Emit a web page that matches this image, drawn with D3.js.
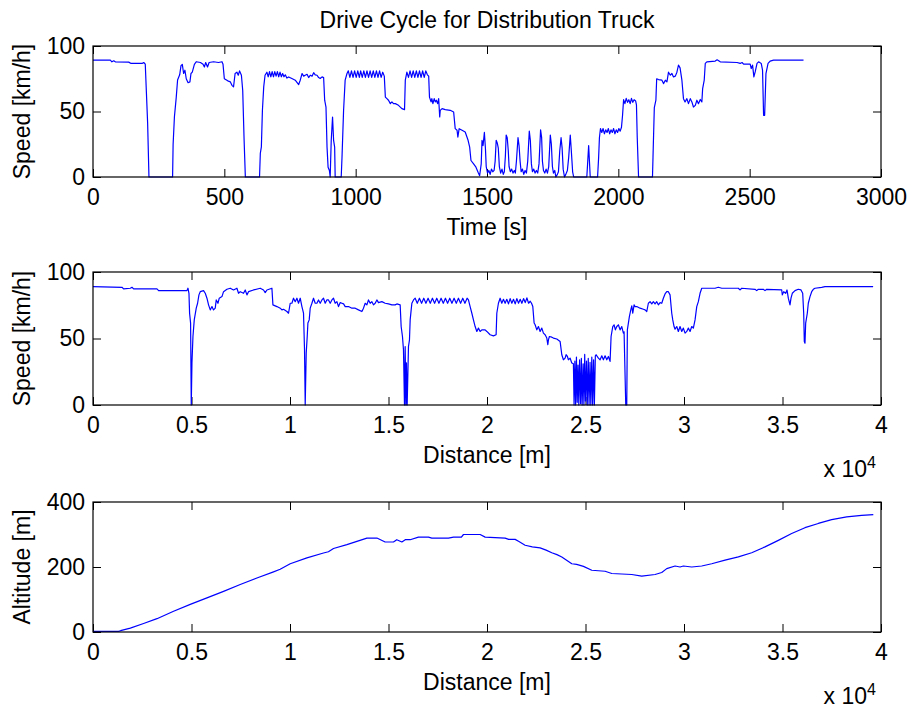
<!DOCTYPE html>
<html>
<head>
<meta charset="utf-8">
<script src="https://cdn.jsdelivr.net/npm/d3@7"></script>
<style>
  html, body { margin: 0; padding: 0; background: #fff; }
  svg text { font-family: "Liberation Sans", Arial, Helvetica, sans-serif; fill: #000; }
</style>
</head>
<body>
<svg id="fig" width="915" height="713"></svg>
<script>
// ---- Speed over time [s] -> [km/h]
const cycleTime = [
  0, 66, 72, 79, 85, 136, 145, 187, 193, 199, 203, 208, 213, 303, 305, 310, 317, 322, 330, 335,
  340, 345, 350, 355, 362, 369, 373, 378, 386, 393, 409, 419, 424, 429, 436, 442, 459, 478, 491, 495,
  500, 513, 523, 529, 535, 541, 548, 553, 558, 565, 570, 575, 580, 634, 637, 641, 645, 650, 655, 662,
  667, 672, 677, 682, 687, 692, 697, 702, 707, 712, 717, 722, 727, 732, 738, 745, 757, 770, 783, 789,
  796, 802, 808, 815, 821, 827, 834, 840, 846, 853, 859, 865, 872, 878, 882, 887, 891, 895, 900, 903,
  907, 912, 916, 920, 922, 945, 948, 954, 960, 967, 972, 978, 984, 990, 996, 1002, 1008, 1014, 1019, 1025,
  1031, 1037, 1043, 1049, 1055, 1061, 1067, 1073, 1079, 1085, 1091, 1097, 1103, 1109, 1113, 1119, 1125, 1132, 1138, 1144,
  1151, 1163, 1176, 1186, 1189, 1195, 1201, 1207, 1213, 1219, 1225, 1231, 1237, 1243, 1249, 1255, 1261, 1267, 1273, 1278,
  1281, 1287, 1290, 1294, 1299, 1303, 1307, 1312, 1316, 1320, 1322, 1329, 1341, 1360, 1373, 1379, 1386, 1389, 1394, 1405,
  1417, 1428, 1434, 1439, 1449, 1458, 1466, 1472, 1478, 1481, 1485, 1490, 1494, 1497, 1502, 1507, 1512, 1517, 1522, 1527,
  1531, 1535, 1539, 1543, 1547, 1552, 1557, 1562, 1566, 1570, 1573, 1577, 1581, 1584, 1589, 1594, 1599, 1604, 1608, 1612,
  1618, 1622, 1626, 1630, 1635, 1640, 1645, 1650, 1655, 1661, 1665, 1669, 1673, 1678, 1683, 1688, 1693, 1698, 1704, 1708,
  1711, 1715, 1720, 1725, 1730, 1735, 1741, 1745, 1749, 1753, 1758, 1762, 1768, 1772, 1777, 1782, 1786, 1790, 1795, 1800,
  1806, 1811, 1817, 1821, 1826, 1830, 1880, 1883, 1887, 1890, 1893, 1921, 1925, 1928, 1932, 1937, 1942, 1947, 1952, 1957,
  1962, 1967, 1972, 1977, 1982, 1987, 1992, 1997, 2002, 2007, 2012, 2016, 2020, 2025, 2030, 2035, 2040, 2045, 2050, 2055,
  2060, 2066, 2069, 2072, 2077, 2130, 2132, 2137, 2143, 2146, 2153, 2166, 2172, 2179, 2185, 2191, 2198, 2204, 2210, 2217,
  2223, 2229, 2235, 2242, 2248, 2254, 2261, 2267, 2274, 2280, 2286, 2293, 2299, 2305, 2312, 2318, 2321, 2327, 2331, 2337,
  2369, 2376, 2388, 2452, 2464, 2471, 2477, 2502, 2506, 2511, 2516, 2521, 2528, 2534, 2544, 2549, 2553, 2557, 2562, 2570,
  2578, 2591, 2705
];
const cycleSpeed = [
  89.2, 89.2, 87.9, 88.7, 87.9, 87.7, 86.7, 86.7, 87.4, 86.1, 66, 41, 0, 0, 25, 46, 61, 74, 78, 85,
  86, 79, 81.5, 75, 72, 72.6, 79, 80, 86, 88, 87.4, 86, 84, 87.4, 84, 87.4, 88, 87.4, 88, 86,
  75, 73.4, 72.6, 70, 68.8, 79, 80, 77.7, 81, 77.7, 66, 30, 0, 0, 18, 23, 51, 69, 77.7, 80,
  76.5, 80.5, 76.5, 80.5, 76.5, 80.5, 77, 80.5, 76.5, 80, 76.5, 79, 76.5, 78, 75.5, 76.4, 75.2, 73.9, 70.6, 73.9,
  79, 77, 77.7, 78.4, 75.9, 77.7, 77, 79.6, 78, 77.7, 75.9, 75.2, 76.4, 75.9, 58.6, 53.4, 22.8, 7.5, 5, 0,
  28, 45.8, 28, 22.8, 0, 0, 15, 51, 74, 79, 81, 76, 81, 76, 81, 76, 81, 76, 81, 76,
  81, 76, 81, 76, 81, 76, 81, 76, 81, 76, 81, 76, 80, 77, 61, 59.8, 58.6, 56, 57.3, 56,
  56, 54.7, 52.2, 51.4, 74, 80, 76, 81, 76, 81, 76, 81, 76, 81, 76, 81, 76, 81, 78, 77,
  61, 57.3, 59.8, 56, 59.8, 57.3, 58.6, 56, 59.8, 45.8, 50.9, 52.2, 51.4, 50.9, 49.6, 36.9, 35.7, 30.5, 36.9, 35.7,
  34.4, 28, 22.8, 12.6, 10, 7.5, 3.6, 1, 10, 28, 24, 34, 22, 8, 3, 5, 2, 6, 4, 5,
  12, 28, 26, 22, 8, 3, 6, 2, 4, 16, 32, 30, 20, 8, 4, 6, 3, 5, 3, 12,
  30, 24, 12, 4, 6, 2, 5, 3, 12, 35, 28, 10, 4, 6, 3, 5, 3, 10, 36, 30,
  12, 5, 3, 6, 3, 8, 32, 25, 8, 3, 5, 0, 2, 4, 20, 30, 22, 6, 0, 2,
  5, 15, 32, 20, 4, 0, 0, 10, 24, 12, 0, 0, 15, 30, 37, 34, 37, 33, 36, 34,
  37, 33, 36, 34, 37, 33, 36, 34, 37, 35, 38, 47, 59, 56, 60, 57, 59, 56, 60, 57,
  59, 58, 55, 30, 0, 0, 15, 53, 58.6, 75, 74.4, 73.9, 71.3, 73.9, 72.6, 80, 77.7, 79, 76.4, 77,
  80, 85.4, 83.3, 73.9, 59.8, 57.3, 59.8, 56, 59.8, 57.3, 53.4, 54.7, 58.6, 56, 59.2, 57.3, 67.5, 73.9, 86.7, 87.9,
  88.5, 89.5, 87.9, 87.4, 86.7, 87.4, 86.1, 86.1, 82.8, 85.4, 76.4, 80.2, 86.7, 87.9, 86.7, 81.5, 47.1, 47.1, 79, 86.7,
  88.5, 89.2, 89.2
];

// ---- Speed over distance [m] -> [km/h]
const routeDistance = [
  0, 1471, 1555, 1893, 1979, 2062, 3247, 3331, 4769, 4820, 4871, 4903, 4954, 4988, 5023, 5074, 5140, 5241, 5309, 5378,
  5444, 5612, 5698, 5784, 5866, 5952, 6038, 6119, 6205, 6256, 6343, 6409, 6546, 6627, 6799, 6967, 7134, 7306, 7388, 7474,
  7642, 7728, 7814, 7895, 8149, 8489, 8656, 8742, 8829, 9082, 9133, 9336, 9504, 9590, 9671, 9844, 9925, 10011, 10097, 10178,
  10265, 10351, 10432, 10519, 10605, 10686, 10737, 10772, 10823, 10874, 10909, 10975, 11026, 11112, 11193, 11280, 11365, 11447, 11533, 11620,
  11701, 11787, 11870, 11954, 12041, 12127, 12208, 12294, 12381, 12462, 12550, 12634, 12720, 12802, 12970, 13142, 13310, 13477, 13649, 13731,
  13817, 13903, 13984, 14070, 14156, 14238, 14324, 14410, 14491, 14664, 14831, 14999, 15171, 15338, 15425, 15592, 15642, 15709, 15760, 15811,
  15846, 15882, 15912, 15948, 16014, 16065, 16100, 16151, 16186, 16270, 16354, 16460, 16570, 16680, 16790, 16900, 17010, 17120, 17230, 17340,
  17450, 17560, 17670, 17780, 17890, 18000, 18110, 18220, 18330, 18440, 18550, 18660, 18770, 18880, 18990, 19058, 19144, 19231, 19312, 19398,
  19484, 19565, 19652, 19738, 19819, 19905, 19991, 20159, 20327, 20463, 20498, 20580, 20666, 20750, 20835, 20920, 21005, 21090, 21175, 21260,
  21345, 21430, 21515, 21600, 21685, 21770, 21855, 21940, 22025, 22110, 22195, 22260, 22325, 22392, 22443, 22529, 22610, 22696, 22782, 22864,
  22950, 23036, 23087, 23118, 23168, 23289, 23371, 23543, 23711, 23797, 23878, 23965, 24016, 24082, 24132, 24219, 24304, 24386, 24420, 24460,
  24500, 24540, 24580, 24620, 24660, 24700, 24750, 24790, 24830, 24880, 24920, 24960, 25000, 25050, 25090, 25140, 25180, 25230, 25270, 25320,
  25360, 25410, 25450, 25500, 25538, 25655, 25741, 25827, 25908, 25994, 26080, 26162, 26248, 26299, 26384, 26451, 26517, 26588, 26669, 26755,
  26841, 26923, 26958, 27043, 27094, 27125, 27227, 27298, 27349, 27399, 27466, 27517, 27603, 27770, 27938, 28024, 28110, 28191, 28278, 28364,
  28445, 28531, 28617, 28698, 28785, 28871, 28952, 29038, 29125, 29206, 29292, 29378, 29429, 29496, 29546, 29633, 29713, 29799, 29886, 29967,
  30054, 30140, 30221, 30307, 30393, 30475, 30561, 30647, 30728, 30815, 30901, 31575, 31743, 31915, 32758, 32844, 32930, 33605, 33691, 33772,
  34026, 34112, 34199, 34960, 34991, 35061, 35163, 35229, 35295, 35381, 35432, 35498, 35635, 35802, 35939, 36025, 36076, 36107, 36142, 36177,
  36259, 36310, 36396, 36482, 36564, 36650, 36989, 37157, 39600
];
const routeSpeed = [
  89, 88.5, 87.3, 87.8, 88.5, 87.3, 87.3, 86, 86, 87.8, 84, 69, 61.6, 0, 31.6, 51.5, 64, 72.8, 76.5, 82.8,
  85.2, 86, 84, 80.3, 75.3, 71.5, 74, 71.5, 72.8, 79, 76.5, 80.3, 81.5, 85.2, 87, 87.8, 86.5, 87.8, 84, 85.2,
  84, 86.5, 82.8, 85.2, 86.5, 87.8, 86.5, 84.5, 86.5, 87.8, 75.3, 74, 72.8, 71.5, 72, 70.3, 69, 76.5, 76.5, 80.3,
  77.7, 80.3, 76.5, 80.3, 74, 69, 41.6, 0, 39, 51.5, 61.6, 64, 72.8, 76.5, 80.3, 76.5, 76.5, 79, 76.5, 79,
  80.3, 76.5, 79, 79, 76.5, 79, 80.3, 76.5, 77.7, 74, 77, 76.5, 76, 74, 74, 72.8, 72.8, 71.5, 70.3, 72.8,
  76.5, 75.3, 79, 76.5, 77.7, 75.3, 76.5, 79, 77, 77.7, 76.5, 76, 75.3, 75.3, 76, 75.3, 59, 51.5, 41.6, 0,
  44, 0, 31.6, 0, 44, 49, 64, 71.5, 76.5, 79, 80.3, 76.5, 80.3, 76.5, 80.3, 76.5, 80.3, 76.5, 80.3, 76.5,
  80.3, 76.5, 80.3, 76.5, 80.3, 76.5, 80.3, 76.5, 80.3, 76.5, 80.3, 76.5, 80.3, 76.5, 80.3, 79, 74, 69, 64, 59,
  55.3, 57.8, 55.3, 56.5, 56.5, 56.5, 55.3, 52.8, 52, 52.8, 69, 76.5, 80.3, 76.5, 79.5, 76.5, 79.5, 76, 80, 76.5,
  79.5, 76, 80, 76.5, 79.5, 76.5, 80, 77, 80.5, 76.5, 78, 76.5, 74, 61.6, 60.3, 56.5, 59, 55.3, 57.8, 54,
  52.8, 50.3, 45.3, 49, 51.5, 51, 50.3, 49.6, 47.8, 37.8, 34, 35.2, 37.8, 36.5, 34, 35.2, 31.6, 31, 0, 33,
  0, 36, 2, 30, 0, 34, 1, 35, 0, 31, 0, 38, 3, 33, 0, 35, 0, 32, 0, 36,
  0, 34, 0, 37, 37.8, 35.2, 34, 37, 34, 37, 34, 36.5, 32.8, 51.5, 59, 60.3, 56.5, 59, 60.3, 56.5,
  59, 54, 55, 0, 0, 56.5, 66.5, 71.5, 74.5, 69, 75.3, 74, 74, 72.8, 72, 71.5, 70.3, 76.5, 77.7, 76,
  77.7, 76, 77.7, 75.3, 77, 76.5, 80.3, 83.5, 85.2, 85.2, 82.8, 69, 64, 59, 57, 59, 55.3, 59, 55.3, 57.8,
  54, 55.3, 57.8, 55.3, 59, 57.8, 64, 74, 77.7, 84, 87.8, 87.8, 88.5, 87.8, 87.8, 86.5, 87.8, 87, 86, 87,
  87, 86, 87, 86.5, 82.8, 85.2, 84, 86.5, 80.3, 75.3, 80.3, 84, 86, 87, 86.5, 84, 69, 47.8, 46.5, 61.6,
  69, 76.5, 81.5, 85.2, 87, 87.8, 88.5, 89, 89
];

// ---- Altitude over distance [m] -> [m]
const profileDistance = [
  0, 1300, 1400, 1893, 2568, 3247, 4090, 4937, 5784, 6627, 7474, 8321, 9164, 9500, 10011, 10858, 11700, 11950, 12208, 12888,
  13396, 13903, 14410, 14831, 15253, 15420, 15680, 15850, 16100, 16521, 17029, 17200, 18044, 18300, 18700, 18806, 19652, 19906, 20920, 21100,
  21428, 21600, 21935, 22300, 22696, 23000, 23289, 23550, 23797, 24304, 24550, 24896, 25318, 25994, 26333, 27348, 27855, 28531, 28870, 29124,
  29546, 29800, 29970, 30392, 30900, 31407, 32083, 32759, 33436, 34112, 34788, 35465, 36141, 36817, 37497, 38258, 39018, 39609
];
const profileAltitude = [
  2, 2, 4, 12, 26, 41, 64, 85, 105, 125, 146, 166, 185, 193, 210, 228, 243, 247, 257, 269,
  279, 289, 289, 277, 277, 284, 277, 284, 284, 292, 292, 289, 289, 292, 292, 300, 300, 292, 289, 285,
  285, 279, 267, 262, 259, 252, 244, 238, 231, 210, 208, 202, 190, 187, 180, 177, 172, 177, 183, 195,
  203, 200, 203, 200, 203, 210, 221, 231, 244, 262, 282, 303, 321, 334, 346, 354, 359, 361
];

// ---- Tick values
const timeTicks = [0, 500, 1000, 1500, 2000, 2500, 3000];
const distanceTicks = [0, 5000, 10000, 15000, 20000, 25000, 30000, 35000, 40000];
const speedTicks = [0, 50, 100];
const altitudeTicks = [0, 200, 400];

const svg = d3.select("#fig");
svg.append("rect").attr("width", 915).attr("height", 713).attr("fill", "#fff");

const plotLeft = 93, plotRight = 881;
const fontSize = 23;

function panel(cfg) {
  const x = d3.scaleLinear().domain(cfg.xDomain).range([plotLeft, plotRight]);
  const y = d3.scaleLinear().domain(cfg.yDomain).range([cfg.bottom, cfg.top]);
  const g = svg.append("g");

  const styleAxis = sel => {
    sel.select(".domain").remove();
    sel.selectAll(".tick line").attr("stroke", "#000").attr("stroke-width", 1);
    sel.selectAll("text").style("font-size", fontSize + "px").attr("fill", "#000");
  };

  // bottom axis with labels, top axis mirrored without labels
  g.append("g").attr("transform", `translate(0,${cfg.bottom})`)
    .call(d3.axisBottom(x).tickValues(cfg.xTicks).tickFormat(cfg.xFormat).tickSize(-8).tickPadding(12))
    .call(styleAxis);
  g.append("g").attr("transform", `translate(0,${cfg.top})`)
    .call(d3.axisTop(x).tickValues(cfg.xTicks).tickFormat("").tickSize(-8))
    .call(styleAxis);
  g.append("g").attr("transform", `translate(${plotLeft},0)`)
    .call(d3.axisLeft(y).tickValues(cfg.yTicks).tickFormat(d3.format("d")).tickSize(-8).tickPadding(8))
    .call(styleAxis);
  g.append("g").attr("transform", `translate(${plotRight},0)`)
    .call(d3.axisRight(y).tickValues(cfg.yTicks).tickFormat("").tickSize(-8))
    .call(styleAxis);

  // data line
  const pts = d3.zip(cfg.xs, cfg.ys);
  g.append("path")
    .datum(pts)
    .attr("fill", "none")
    .attr("stroke", "#0000ff")
    .attr("stroke-width", 1.2)
    .attr("stroke-linejoin", "round")
    .attr("d", d3.line().x(d => x(d[0])).y(d => y(d[1])));

  // frame
  g.append("rect")
    .attr("x", plotLeft).attr("y", cfg.top)
    .attr("width", plotRight - plotLeft).attr("height", cfg.bottom - cfg.top)
    .attr("fill", "none").attr("stroke", "#000").attr("stroke-width", 1.2);

  // axis labels
  g.append("text")
    .attr("x", (plotLeft + plotRight) / 2).attr("y", cfg.bottom + 58)
    .attr("text-anchor", "middle").style("font-size", fontSize + "px")
    .text(cfg.xLabel);
  g.append("text")
    .attr("transform", `translate(30,${(cfg.top + cfg.bottom) / 2}) rotate(-90)`)
    .attr("text-anchor", "middle").style("font-size", fontSize + "px")
    .text(cfg.yLabel);

  if (cfg.exponent) {
    const t = g.append("text")
      .attr("x", 876).attr("y", cfg.bottom + 72)
      .attr("text-anchor", "end")
      .style("font-size", fontSize + "px");
    t.append("tspan").text("x 10");
    t.append("tspan").attr("dy", -9).style("font-size", "16px").text("4");
  }
}

const distFormat = d => d3.format("~g")(d / 1e4);

panel({
  top: 46, bottom: 177,
  xDomain: [0, 3000], yDomain: [0, 100],
  xTicks: timeTicks, yTicks: speedTicks, xFormat: d3.format("d"),
  xs: cycleTime, ys: cycleSpeed,
  xLabel: "Time [s]", yLabel: "Speed [km/h]"
});
panel({
  top: 272, bottom: 405,
  xDomain: [0, 40000], yDomain: [0, 100],
  xTicks: distanceTicks, yTicks: speedTicks, xFormat: distFormat,
  xs: routeDistance, ys: routeSpeed,
  xLabel: "Distance [m]", yLabel: "Speed [km/h]", exponent: true
});
panel({
  top: 502, bottom: 632,
  xDomain: [0, 40000], yDomain: [0, 400],
  xTicks: distanceTicks, yTicks: altitudeTicks, xFormat: distFormat,
  xs: profileDistance, ys: profileAltitude,
  xLabel: "Distance [m]", yLabel: "Altitude [m]", exponent: true
});

svg.append("text")
  .attr("x", 487).attr("y", 28)
  .attr("text-anchor", "middle").style("font-size", fontSize + "px")
  .text("Drive Cycle for Distribution Truck");
</script>
</body>
</html>
